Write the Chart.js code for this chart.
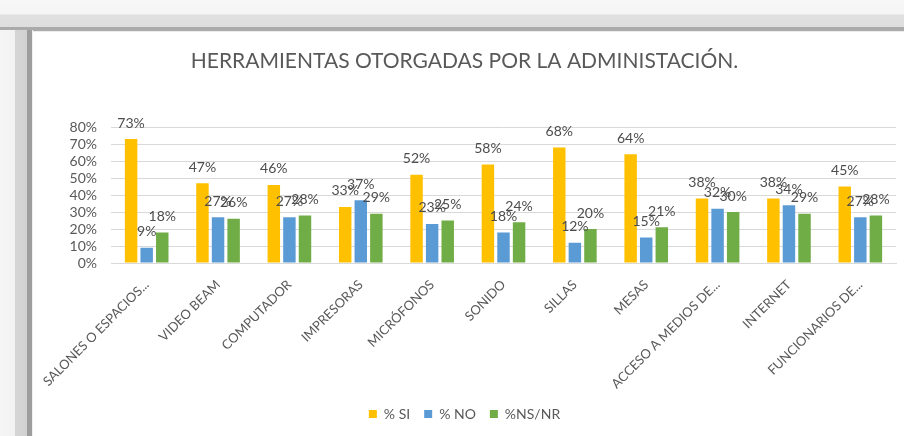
<!DOCTYPE html>
<html lang="es">
<head>
  <meta charset="UTF-8">
  <title>Herramientas otorgadas por la administración</title>
  <script src="https://cdn.jsdelivr.net/npm/chart.js"></script>
  <style>
    html, body {
      margin: 0;
      padding: 0;
      background: #fff;
    }

    body {
      width: 904px;
      height: 436px;
      position: relative;
      overflow: hidden;
      font-family: Lato, sans-serif;
    }

    /* sombra del recuadro (arriba e izquierda) */
    .sombra-top {
      position: absolute;
      left: 0;
      top: 0;
      width: 904px;
      height: 32px;
      background: linear-gradient(to bottom, #f7f7f7 0, #f5f5f5 14px, #e0e0e0 15px, #dedede 27px, #aaaaaa 27px, #acacac 31px, #ececec 31px);
    }

    .sombra-left {
      position: absolute;
      left: 0;
      top: 30px;
      width: 33px;
      height: 406px;
      background: linear-gradient(to right, #f5f5f5 0, #f2f2f2 15px, #d5d5d5 15px, #d2d2d2 27px, #9c9c9c 27px, #9e9e9e 32px, #efefef 32px);
    }

    .grafico {
      position: absolute;
      left: 33px;
      top: 32px;
      width: 871px;
      height: 404px;
      background: #fff;
    }
  </style>
</head>

<body>
  <div class="sombra-top"></div>
  <div class="sombra-left"></div>
  <div class="grafico">
    <canvas id="barChart" width="871" height="404"></canvas>
  </div>

  <script>
    // Datos
    const categorias = ['SALONES O ESPACIOS...', 'VIDEO BEAM', 'COMPUTADOR', 'IMPRESORAS', 'MICRÓFONOS',
      'SONIDO', 'SILLAS', 'MESAS', 'ACCESO A MEDIOS DE...', 'INTERNET', 'FUNCIONARIOS DE...'];
    const porcentajeSi = [73, 47, 46, 33, 52, 58, 68, 64, 38, 38, 45];
    const porcentajeNo = [9, 27, 27, 37, 23, 18, 12, 15, 32, 34, 27];
    const porcentajeNsNr = [18, 26, 28, 29, 25, 24, 20, 21, 30, 29, 28];
    const ticksY = [0, 10, 20, 30, 40, 50, 60, 70, 80];

    const grisTexto = '#595959';

    // Etiquetas de valor encima de cada barra
    const etiquetasPlugin = {
      id: 'etiquetas',
      afterDatasetsDraw(chart) {
        const ctx = chart.ctx;
        ctx.save();
        ctx.font = '14px Lato';
        ctx.fillStyle = '#4d4d4d';
        ctx.textAlign = 'center';
        ctx.textBaseline = 'middle';
        chart.data.datasets.forEach((ds, i) => {
          chart.getDatasetMeta(i).data.forEach((bar, j) => {
            ctx.fillText(ds.data[j] + '%', bar.x, bar.y - 16);
          });
        });
        ctx.restore();
      }
    };

    document.addEventListener('DOMContentLoaded', function () {
      const ctx = document.getElementById('barChart').getContext('2d');
      new Chart(ctx, {
        type: 'bar',
        data: {
          labels: categorias,
          datasets: [{
            label: '% SI',
            data: porcentajeSi,
            backgroundColor: '#FFC000'
          }, {
            label: '% NO',
            data: porcentajeNo,
            backgroundColor: '#5B9BD5'
          }, {
            label: '%NS/NR',
            data: porcentajeNsNr,
            backgroundColor: '#70AD47'
          }]
        },
        options: {
          responsive: false,
          devicePixelRatio: 1,
          animation: false,
          categoryPercentage: 0.655,
          barPercentage: 0.8,
          layout: {
            padding: { left: 0, right: 8, top: 0, bottom: 5 }
          },
          plugins: {
            tooltip: { enabled: false },
            title: {
              display: true,
              text: 'HERRAMIENTAS OTORGADAS POR LA ADMINISTACIÓN.',
              color: grisTexto,
              font: { family: 'Lato', size: 21, weight: 'normal' },
              padding: { top: 17, bottom: 53 }
            },
            legend: {
              position: 'bottom',
              labels: {
                color: grisTexto,
                font: { family: 'Lato', size: 14 },
                boxWidth: 8,
                boxHeight: 8,
                padding: 14
              }
            }
          },
          scales: {
            x: {
              grid: { display: false },
              border: { color: '#d9d9d9' },
              ticks: {
                color: grisTexto,
                font: { family: 'Lato', size: 13 },
                minRotation: 45,
                maxRotation: 45,
                autoSkip: false,
                padding: 6
              },
              afterFit: function (scale) {
                scale.height = 130;
              }
            },
            y: {
              min: 0,
              max: 80,
              afterBuildTicks: function (scale) {
                scale.ticks = ticksY.map(v => ({ value: v }));
              },
              grid: { color: '#d9d9d9', drawTicks: false },
              border: { display: false },
              ticks: {
                color: grisTexto,
                font: { family: 'Lato', size: 14 },
                padding: 14,
                autoSkip: false,
                callback: v => v + '%'
              },
              afterFit: function (scale) {
                scale.width = 78;
              }
            }
          }
        },
        plugins: [etiquetasPlugin]
      });
    });
  </script>
</body>

</html>
